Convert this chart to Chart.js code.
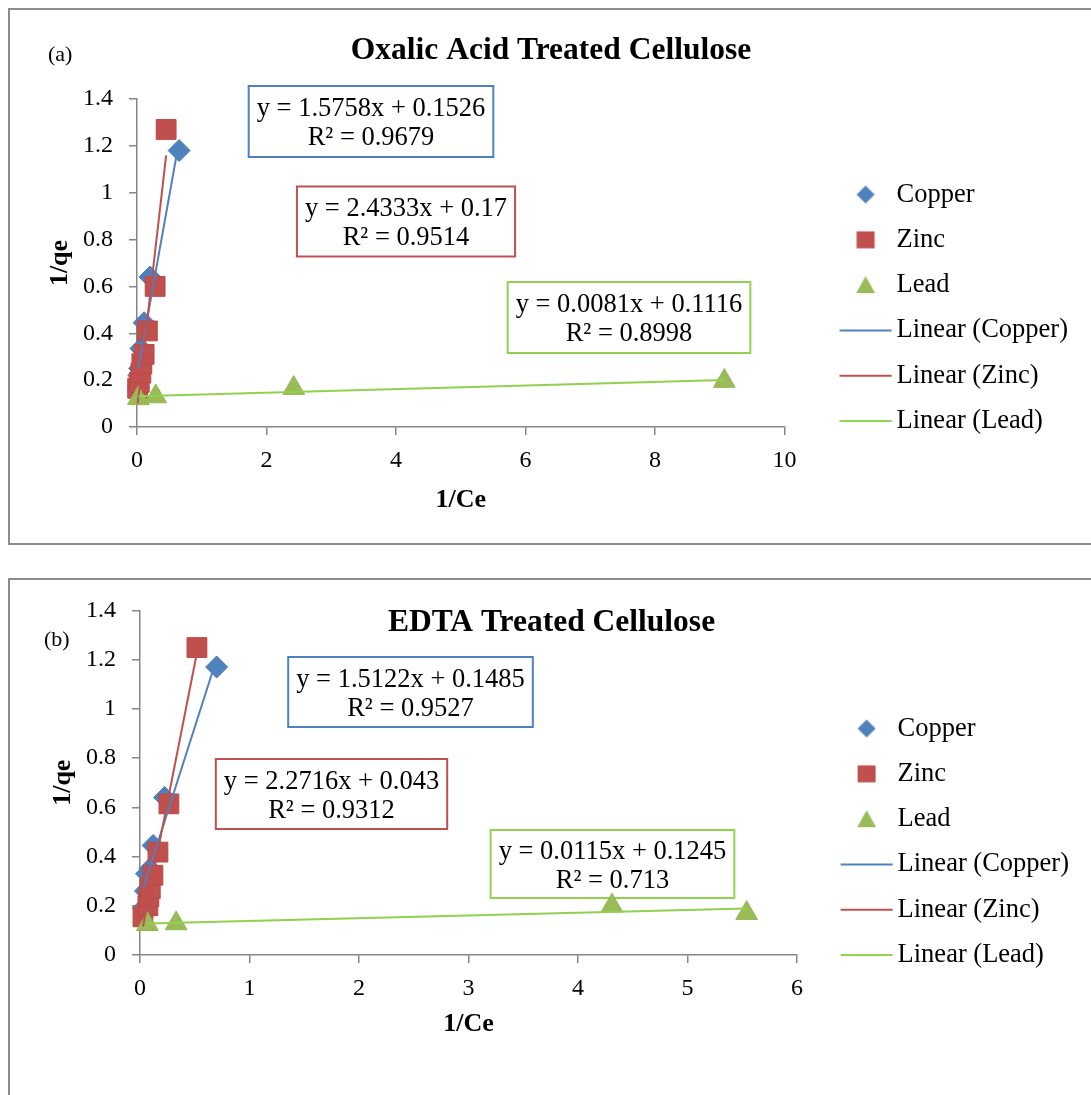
<!DOCTYPE html>
<html>
<head>
<meta charset="utf-8">
<title>Langmuir plots</title>
<script src="https://cdn.jsdelivr.net/npm/chart.js@4/dist/chart.umd.min.js"></script>
<style>
html, body { margin: 0; padding: 0; background: #fff; overflow: hidden; }
.panel { position: absolute; left: 8px; width: 1084px; border: 2px solid #8c8c8c; background: #fff; }
#panelA { top: 8px; height: 533px; }
#panelB { top: 578px; height: 540px; }
canvas { display: block; }
</style>
</head>
<body>
<div class="panel" id="panelA"><canvas id="chartA" width="1084" height="533"></canvas></div>
<div class="panel" id="panelB"><canvas id="chartB" width="1084" height="515"></canvas></div>
<script>
// ---- data ----
var seriesNames = ['Copper', 'Zinc', 'Lead'];
var yTicks = [0, 0.2, 0.4, 0.6, 0.8, 1, 1.2, 1.4];

// (a) Oxalic acid treated cellulose
var oxalicCopperX = [0.02, 0.03, 0.04, 0.06, 0.11, 0.2, 0.65];
var oxalicCopperY = [0.17, 0.22, 0.25, 0.335, 0.445, 0.64, 1.18];
var oxalicZincX = [0.01, 0.035, 0.06, 0.075, 0.11, 0.16, 0.28, 0.45];
var oxalicZincY = [0.165, 0.19, 0.23, 0.27, 0.31, 0.41, 0.6, 1.27];
var oxalicLeadX = [0.02, 0.29, 2.42, 9.07];
var oxalicLeadY = [0.122, 0.13, 0.166, 0.196];
var oxalicXTicks = [0, 2, 4, 6, 8, 10];
var oxalicEquations = ['y = 1.5758x + 0.1526', 'y = 2.4333x + 0.17', 'y = 0.0081x + 0.1116'];
var oxalicR2 = ['R² = 0.9679', 'R² = 0.9514', 'R² = 0.8998'];

// (b) EDTA treated cellulose
var edtaCopperX = [0.03, 0.05, 0.06, 0.09, 0.12, 0.225, 0.7];
var edtaCopperY = [0.19, 0.26, 0.33, 0.35, 0.445, 0.64, 1.17];
var edtaZincX = [0.027, 0.072, 0.081, 0.094, 0.118, 0.164, 0.264, 0.52];
var edtaZincY = [0.155, 0.2, 0.236, 0.27, 0.324, 0.418, 0.614, 1.249];
var edtaLeadX = [0.067, 0.33, 4.31, 5.54];
var edtaLeadY = [0.125, 0.128, 0.2, 0.17];
var edtaXTicks = [0, 1, 2, 3, 4, 5, 6];
var edtaEquations = ['y = 1.5122x + 0.1485', 'y = 2.2716x + 0.043', 'y = 0.0115x + 0.1245'];
var edtaR2 = ['R² = 0.9527', 'R² = 0.9312', 'R² = 0.713'];

// ---- styles ----
var FONT = "'Liberation Serif', 'Times New Roman', serif";
var markerFill = ['#4F81BD', '#C0504D', '#9BBB59'];
var markerEdge = ['#4A7DBA', '#BA4A47', '#93B552'];
var trendColor = ['#4F81BD', '#C0504D', '#92D050'];
var markerShape = ['rectRot', 'rect', 'triangle'];
var markerSize = [11, 14, 12.5];
var LEGEND_FONT = 26.5;

function toPoints(xs, ys) {
    var pts = [];
    for (var i = 0; i < xs.length; i++) pts.push({ x: xs[i], y: ys[i] });
    return pts;
}

// least squares line over the x range of the series (like the Excel trendline)
function fitLine(xs, ys) {
    var n = xs.length, mx = 0, my = 0, sxy = 0, sxx = 0;
    for (var i = 0; i < n; i++) { mx += xs[i]; my += ys[i]; }
    mx /= n; my /= n;
    for (var j = 0; j < n; j++) {
        sxy += (xs[j] - mx) * (ys[j] - my);
        sxx += (xs[j] - mx) * (xs[j] - mx);
    }
    var slope = sxy / sxx, icpt = my - slope * mx;
    var x0 = Math.min.apply(null, xs), x1 = Math.max.apply(null, xs);
    return [{ x: x0, y: icpt + slope * x0 }, { x: x1, y: icpt + slope * x1 }];
}

// small canvas used as legend symbol; content sits next to the label text
function legendIcon(kind, idx, boxW) {
    var c = document.createElement('canvas');
    c.width = boxW * 2; c.height = 30;
    var g = c.getContext('2d');
    var textStart = 1.5 * boxW + LEGEND_FONT / 2;
    var cx = textStart - 31, cy = 15;
    if (kind === 'line') {
        g.strokeStyle = trendColor[idx]; g.lineWidth = 2;
        g.beginPath(); g.moveTo(textStart - 57, cy); g.lineTo(textStart - 5, cy); g.stroke();
        return c;
    }
    g.fillStyle = markerFill[idx];
    g.beginPath();
    if (idx === 0) {
        g.moveTo(cx - 9, cy); g.lineTo(cx, cy - 9); g.lineTo(cx + 9, cy); g.lineTo(cx, cy + 9);
    } else if (idx === 1) {
        g.rect(cx - 9, cy - 8.5, 18, 17);
    } else {
        g.moveTo(cx, cy - 9); g.lineTo(cx + 9.5, cy + 8); g.lineTo(cx - 9.5, cy + 8);
    }
    g.closePath(); g.fill();
    return c;
}

var overlayPlugin = {
    id: 'overlay',
    beforeDatasetsDraw: function (chart, args, opts) {
        var ctx = chart.ctx;
        ctx.save();
        ctx.font = '26.5px ' + FONT;
        ctx.textAlign = 'center';
        ctx.textBaseline = 'middle';
        opts.boxes.forEach(function (b, i) {
            var w = Math.max(ctx.measureText(opts.equations[i]).width, ctx.measureText(opts.r2[i]).width) + 16;
            ctx.strokeStyle = trendColor[i];
            ctx.lineWidth = 2;
            ctx.strokeRect(b.cx - w / 2, b.cy - b.h / 2, w, b.h);
            ctx.fillStyle = '#000';
            ctx.fillText(opts.equations[i], b.cx, b.cy - 12);
            ctx.fillText(opts.r2[i], b.cx, b.cy + 17);
        });
        ctx.font = '22px ' + FONT;
        ctx.textAlign = 'left';
        ctx.fillText(opts.tag, opts.tagX, opts.tagY);
        ctx.restore();
    }
};

function buildChart(canvasId, d, lay) {
    var xs = [d.copperX, d.zincX, d.leadX], ys = [d.copperY, d.zincY, d.leadY];
    var datasets = [];
    for (var i = 0; i < 3; i++) {
        datasets.push({
            label: seriesNames[i],
            data: toPoints(xs[i], ys[i]),
            pointStyle: markerShape[i],
            pointRadius: markerSize[i],
            backgroundColor: markerFill[i],
            borderColor: markerEdge[i],
            borderWidth: 1,
            clip: false,
            order: 6 - i
        });
    }
    for (var k = 0; k < 3; k++) {
        datasets.push({
            label: 'Linear (' + seriesNames[k] + ')',
            data: fitLine(xs[k], ys[k]),
            showLine: true,
            pointRadius: 0,
            borderColor: trendColor[k],
            borderWidth: 2,
            clip: false,
            order: 3 - k
        });
    }
    var tickFont = { family: FONT, size: 24 };
    var axisTitleFont = { family: FONT, size: 26, weight: 'bold' };
    var gridOpts = { drawOnChartArea: false, drawTicks: true, tickLength: 8, color: '#868686', lineWidth: 1.5 };
    var borderOpts = { display: true, color: '#868686', width: 1.5 };

    return new Chart(document.getElementById(canvasId), {
        type: 'scatter',
        data: { datasets: datasets },
        options: {
            responsive: false,
            animation: false,
            events: [],
            layout: { padding: { left: 14, right: lay.padRight, top: 0, bottom: 0 } },
            plugins: {
                tooltip: { enabled: false },
                title: {
                    display: true, text: d.title, color: '#000',
                    font: { family: FONT, size: 31.5, weight: 'bold' },
                    padding: { top: lay.titleTop, bottom: lay.titleBottom }
                },
                legend: {
                    position: 'right', align: 'start', fullSize: true, maxWidth: 320,
                    title: { display: true, text: '', font: { size: 10, lineHeight: 1 }, padding: { top: lay.legendTop, bottom: 0 } },
                    labels: {
                        usePointStyle: true,
                        pointStyleWidth: lay.legendBox,
                        padding: 18.8,
                        color: '#000',
                        font: { family: FONT, size: LEGEND_FONT },
                        generateLabels: function (chart) {
                            return chart.data.datasets.map(function (ds, i) {
                                return {
                                    text: ds.label,
                                    datasetIndex: i,
                                    pointStyle: legendIcon(i < 3 ? 'marker' : 'line', i % 3, lay.legendBox),
                                    fontColor: '#000',
                                    fillStyle: '#fff', strokeStyle: '#fff', lineWidth: 0, hidden: false
                                };
                            });
                        }
                    }
                },
                overlay: { boxes: lay.boxes, equations: d.equations, r2: d.r2, tag: d.tag, tagX: lay.tagX, tagY: lay.tagY }
            },
            scales: {
                x: {
                    type: 'linear', min: d.xTicks[0], max: d.xTicks[d.xTicks.length - 1],
                    afterBuildTicks: function (scale) { scale.ticks = d.xTicks.map(function (v) { return { value: v }; }); },
                    afterFit: function (scale) { scale.height = lay.xAxisHeight; },
                    ticks: { font: tickFont, color: '#000', padding: 11, maxRotation: 0 },
                    title: { display: true, text: '1/Ce', color: '#000', font: axisTitleFont, padding: { top: 0, bottom: lay.xTitleBottom } },
                    grid: gridOpts, border: borderOpts
                },
                y: {
                    type: 'linear', min: yTicks[0], max: yTicks[yTicks.length - 1],
                    afterBuildTicks: function (scale) { scale.ticks = yTicks.map(function (v) { return { value: v }; }); },
                    afterFit: function (scale) { scale.width = lay.yAxisWidth; },
                    ticks: { font: tickFont, color: '#000', padding: 16, callback: function (v) { return String(+v.toFixed(1)); } },
                    title: { display: true, text: '1/qe', color: '#000', font: axisTitleFont, padding: { top: lay.yTitleTop, bottom: 0 } },
                    grid: gridOpts, border: borderOpts
                }
            }
        },
        plugins: [overlayPlugin]
    });
}

buildChart('chartA', {
    title: 'Oxalic Acid Treated Cellulose', tag: '(a)',
    copperX: oxalicCopperX, copperY: oxalicCopperY,
    zincX: oxalicZincX, zincY: oxalicZincY,
    leadX: oxalicLeadX, leadY: oxalicLeadY,
    xTicks: oxalicXTicks, equations: oxalicEquations, r2: oxalicR2
}, {
    padRight: 16, titleTop: 21.5, titleBottom: 29.7, legendTop: 142.5, legendBox: 80,
    xAxisHeight: 116, xTitleBottom: 27.4, yAxisWidth: 113, yTitleTop: 20.4,
    tagX: 38, tagY: 45,
    boxes: [{ cx: 361, cy: 111.5, h: 71 }, { cx: 396, cy: 211.5, h: 70 }, { cx: 619, cy: 307.5, h: 71 }]
});

buildChart('chartB', {
    title: 'EDTA Treated Cellulose', tag: '(b)',
    copperX: edtaCopperX, copperY: edtaCopperY,
    zincX: edtaZincX, zincY: edtaZincY,
    leadX: edtaLeadX, leadY: edtaLeadY,
    xTicks: edtaXTicks, equations: edtaEquations, r2: edtaR2
}, {
    padRight: 15, titleTop: 22.5, titleBottom: -31.3, legendTop: 106.5, legendBox: 68.5,
    xAxisHeight: 140, xTitleBottom: 55.4, yAxisWidth: 116, yTitleTop: 23.4,
    tagX: 34, tagY: 60,
    boxes: [{ cx: 400.5, cy: 112, h: 70 }, { cx: 321.5, cy: 214, h: 70 }, { cx: 602.5, cy: 284, h: 68 }]
});
</script>
</body>
</html>
